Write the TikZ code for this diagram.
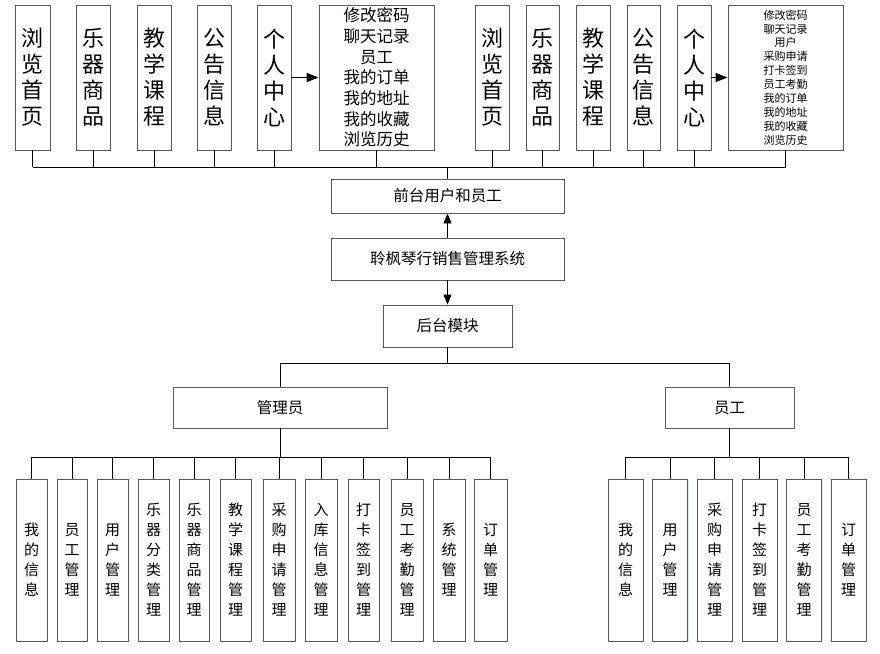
\documentclass[tikz,border=0pt]{standalone}
\usepackage{fontspec}
\usepackage{tikz}
\usetikzlibrary{arrows.meta, positioning, shadows}
\newfontfamily\cjk{Noto Sans CJK SC}
\definecolor{boxGray}{RGB}{90,90,90}
\definecolor{glowBlue}{RGB}{200,215,240}

\begin{document}
\begin{tikzpicture}[
  x=1pt, y=-1pt,
  box/.style={
    rectangle, draw=boxGray, fill=white, line width=0.9pt,
    inner sep=0pt, align=center, text=black,
    drop shadow={shadow xshift=1.2pt, shadow yshift=-1.2pt,
      fill=glowBlue, opacity=0.6}
  },
  topbox/.style={box, minimum width=34pt, minimum height=145pt,
    font=\cjk\fontsize{22}{26}\selectfont},
  listbox/.style 2 args={box, minimum width=115pt, minimum height=145pt,
    font=\cjk\fontsize{#1}{#2}\selectfont},
  midbox/.style={box, minimum width=#1, minimum height=41pt,
    font=\cjk\fontsize{15.5}{18}\selectfont},
  leafbox/.style={box, minimum width=#1, minimum height=162pt,
    font=\cjk\fontsize{15}{20}\selectfont},
  link/.style={line width=0.9pt, black},
  arr/.style={link, -{Triangle[width=8pt,length=10pt]}}
]
  \useasboundingbox (0,0) rectangle (880,653);

  % bus lines
  \coordinate (tbus) at (0,167);
  \coordinate (split) at (0,363);
  \coordinate (abus) at (0,457);

  % top row, left
  \node[topbox, minimum width=35pt] (tl1) at (32.5,77.5) {浏\\览\\首\\页};
  \node[topbox] (tl2) at (93,77.5) {乐\\器\\商\\品};
  \node[topbox] (tl3) at (154,77.5) {教\\学\\课\\程};
  \node[topbox] (tl4) at (214,77.5) {公\\告\\信\\息};
  \node[topbox] (tl5) at (274,77.5) {个\\人\\中\\心};
  \node[listbox={16.5}{20.7}] (tlbig) at (376.5,77.5)
    {修改密码\\聊天记录\\员工\\我的订单\\我的地址\\我的收藏\\浏览历史};

  % top row, right
  \node[topbox] (tr1) at (492,77.5) {浏\\览\\首\\页};
  \node[topbox, minimum width=33pt] (tr2) at (542.5,77.5) {乐\\器\\商\\品};
  \node[topbox] (tr3) at (593,77.5) {教\\学\\课\\程};
  \node[topbox, minimum width=33pt] (tr4) at (643.5,77.5) {公\\告\\信\\息};
  \node[topbox] (tr5) at (694,77.5) {个\\人\\中\\心};
  \node[listbox={11}{13.9}] (trbig) at (785.5,77.5)
    {修改密码\\聊天记录\\用户\\采购申请\\打卡签到\\员工考勤\\我的订单\\我的地址\\我的收藏\\浏览历史};

  \draw[arr, -{Triangle[width=9pt,length=12pt]}] (tl5.east |- tlbig.west) -- (tlbig.west);
  \draw[arr, -{Triangle[width=9pt,length=12pt]}] (tr5.east |- trbig.west) -- (trbig.west);

  % centre column
  \node[midbox=233pt, minimum height=34pt] (front) at (447.5,196) {前台用户和员工};
  \node[midbox=233pt, minimum height=42pt] (sys) at (447.5,259) {聆枫琴行销售管理系统};
  \node[midbox=129pt, minimum height=42pt] (back) at (447.5,326) {后台模块};

  \foreach \a in {tl1,tl2,tl3,tl4,tl5,tlbig,tr1,tr2,tr3,tr4,tr5,trbig}
    \draw[link] (\a.south) -- (\a.south |- tbus);
  \draw[link] (tl1.south |- tbus) -- (trbig.south |- tbus);
  \draw[link] (front.north) -- (front.north |- tbus);

  \draw[arr] (sys.north) -- (front.south);
  \draw[arr] (sys.south) -- (back.north);

  % roles
  \node[midbox=214pt] (adm) at (280,407.5) {管理员};
  \node[midbox=129pt] (emp) at (729.5,407.5) {员工};

  \draw[link] (back.south) -- (back.south |- split);
  \draw[link] (adm.north) |- (emp.north |- split) -- (emp.north);

  % admin modules
  \foreach \x/\w/\t [count=\i] in {
      31.5/31pt/{我\\的\\信\\息}, 72/30pt/{员\\工\\管\\理},
      112.5/31pt/{用\\户\\管\\理}, 153.5/31pt/{乐\\器\\分\\类\\管\\理},
      194/30pt/{乐\\器\\商\\品\\管\\理}, 235.5/31pt/{教\\学\\课\\程\\管\\理},
      279/32pt/{采\\购\\申\\请\\管\\理}, 321/32pt/{入\\库\\信\\息\\管\\理},
      363.5/31pt/{打\\卡\\签\\到\\管\\理}, 407/32pt/{员\\工\\考\\勤\\管\\理},
      449/32pt/{系\\统\\管\\理}, 490.5/33pt/{订\\单\\管\\理}} {
    \node[leafbox=\w] (a\i) at (\x,560) {\t};
    \draw[link] (a\i.north) -- (a\i.north |- abus);
  }
  \draw[link] (a1.north |- abus) -- (a12.north |- abus);
  \draw[link] (adm.south) -- (adm.south |- abus);

  % employee modules
  \foreach \x/\t [count=\i] in {
      625.5/{我\\的\\信\\息}, 670/{用\\户\\管\\理},
      714.5/{采\\购\\申\\请\\管\\理}, 759.5/{打\\卡\\签\\到\\管\\理},
      804/{员\\工\\考\\勤\\管\\理}, 848.5/{订\\单\\管\\理}} {
    \node[leafbox=35pt] (e\i) at (\x,560) {\t};
    \draw[link] (e\i.north) -- (e\i.north |- abus);
  }
  \draw[link] (e1.north |- abus) -- (e6.north |- abus);
  \draw[link] (emp.south) -- (emp.south |- abus);
\end{tikzpicture}
\end{document}
